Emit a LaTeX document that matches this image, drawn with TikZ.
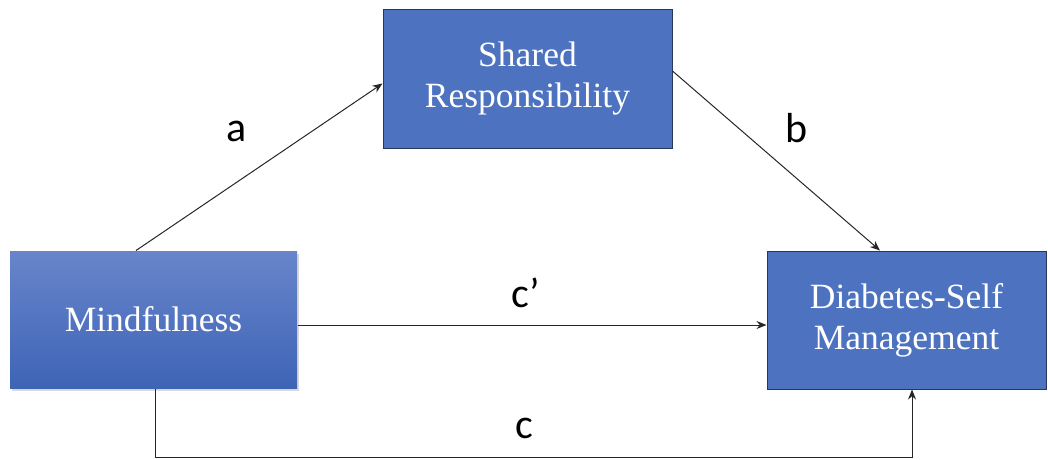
\documentclass[tikz,border=0pt]{standalone}
\usepackage{fontspec}
\setmainfont{Liberation Serif}
\newfontfamily\lblfont{Carlito}
\usepackage{tikz}
\usetikzlibrary{arrows.meta,shadows}
\definecolor{boxblue}{RGB}{76,114,192}
\definecolor{boxedge}{RGB}{40,55,90}
\definecolor{gradtop}{RGB}{104,133,203}
\definecolor{gradbot}{RGB}{62,100,182}
\tikzset{%
    >={Stealth[length=10pt,width=8pt]}, % filled arrow heads
    every picture/.style={x=1pt,y=-1pt},%
    varbox/.style={rectangle, draw=boxedge, line width=1pt, fill=boxblue,
      text=white, align=center, inner sep=0pt,
      font=\fontsize{35.5}{41}\selectfont},%
    gradbox/.style={varbox, draw=none, top color=gradtop, bottom color=gradbot,
      drop shadow={shadow xshift=1.5pt,shadow yshift=-2.5pt,opacity=0.3}},%
    path label/.style={font=\lblfont\fontsize{42}{48}\selectfont, inner sep=0pt},%
    link/.style={->, line width=1pt, draw=black!85}%
    }

\begin{document}
\begin{tikzpicture}
    \useasboundingbox (0,0) rectangle (1048,459);
    % the three variables
    \node[gradbox, minimum width=287pt, minimum height=137pt] (mind) at (153.5,319.5) {Mindfulness};
    \node[varbox, minimum width=289pt, minimum height=139pt] (shared) at (527.5,78.5) {Shared\\Responsibility};
    \node[varbox, minimum width=279pt, minimum height=138pt] (diab) at (906.5,320) {Diabetes-Self\\Management};

    % paths
    \draw[link] ([xshift=-17.5pt]mind.north) -- ([yshift=-5pt]shared.west);
    \draw[link] ([yshift=7.5pt]shared.east) -- ([xshift=-26.5pt]diab.north);
    \draw[link] ([yshift=-5.5pt]mind.east) -- ([yshift=-5.5pt]mind.east -| diab.west);
    \draw[link] ([xshift=1.5pt]mind.south) -- ++(0,69) -| ([xshift=5.5pt]diab.south);

    \node[path label] (la) at (237,131) {a};
    \node[path label] (lb) at (797,128) {b};
    \node[path label] (lc1) at (526,293) {c’};
    \node[path label] (lc) at (524,428) {c};
\end{tikzpicture}
\end{document}
